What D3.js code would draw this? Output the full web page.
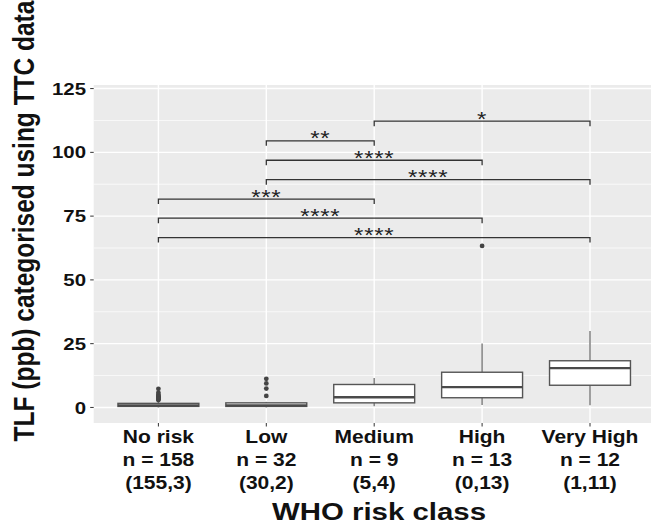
<!DOCTYPE html>
<html>
<head>
<meta charset="utf-8">
<script src="https://cdn.jsdelivr.net/npm/d3@7"></script>
<style>
  html, body { margin: 0; padding: 0; background: #fff; }
  svg { display: block; }
</style>
</head>
<body>
<div id="chart"></div>
<script>
// data
const categories = ["No risk", "Low", "Medium", "High", "Very High"];
const nLabels = ["n = 158", "n = 32", "n = 9", "n = 13", "n = 12"];
const splitLabels = ["(155,3)", "(30,2)", "(5,4)", "(0,13)", "(1,11)"];

const whiskerLow = [0.0, 0.0, 0.5, 1.0, 0.9];
const q1 = [0.4, 0.4, 1.8, 3.8, 8.7];
const median = [0.8, 0.8, 4.0, 8.0, 15.4];
const q3 = [1.6, 1.8, 9.0, 13.8, 18.3];
const whiskerHigh = [2.8, 2.2, 11.5, 25.1, 30.0];
const outliers = [
  [2.9, 3.2, 3.4, 3.7, 4.0, 4.2, 4.5, 5.0, 5.8, 7.3],
  [4.5, 7.4, 9.4, 11.2],
  [],
  [63.3],
  []
];

const compFrom = ["Medium", "Low", "Low", "Low", "No risk", "No risk", "No risk"];
const compTo = ["Very High", "Medium", "High", "Very High", "Medium", "High", "Very High"];
const compY = [112.2, 104.5, 96.9, 89.3, 81.7, 74.2, 66.6];
const compLabel = ["*", "**", "****", "****", "***", "****", "****"];

const yTicks = [0, 25, 50, 75, 100, 125];
const yMinor = [12.5, 37.5, 62.5, 87.5, 112.5];

const yTitle = "TLF (ppb) categorised using TTC data";
const xTitle = "WHO risk class";

// layout
const W = 651, H = 532;
const SX = 1.2; // the reference text is stretched horizontally
const panel = { left: 93.7, right: 654.7, top: 85, bottom: 423 };

const svg = d3.select("#chart").append("svg")
  .attr("width", W).attr("height", H)
  .attr("font-family", "'Liberation Sans', Arial, Helvetica, sans-serif");

const x = d3.scalePoint()
  .domain(categories)
  .range([158.4, 590]);
const step = x.step();

const y = d3.scaleLinear()
  .domain([-6.1, 126.4])
  .range([panel.bottom, panel.top]);

// stretched text helper
function label(g, tx, ty, txt, size, anchor, rot) {
  return g.append("text")
    .attr("transform", `translate(${tx},${ty}) scale(${SX},1)` + (rot ? ` rotate(${rot})` : ""))
    .attr("text-anchor", anchor)
    .attr("font-size", size)
    .attr("font-weight", "bold")
    .attr("fill", "#111")
    .text(txt);
}

// panel
svg.append("rect")
  .attr("x", panel.left).attr("y", panel.top)
  .attr("width", panel.right - panel.left)
  .attr("height", panel.bottom - panel.top)
  .attr("fill", "#EBEBEB");

const grid = svg.append("g");
grid.selectAll(".minor").data(yMinor).join("line")
  .attr("x1", panel.left).attr("x2", panel.right)
  .attr("y1", d => y(d)).attr("y2", d => y(d))
  .attr("stroke", "#fff").attr("stroke-width", 0.7);
grid.selectAll(".major").data(yTicks).join("line")
  .attr("x1", panel.left).attr("x2", panel.right)
  .attr("y1", d => y(d)).attr("y2", d => y(d))
  .attr("stroke", "#fff").attr("stroke-width", 1.4);
grid.selectAll(".vmajor").data(categories).join("line")
  .attr("x1", d => x(d)).attr("x2", d => x(d))
  .attr("y1", panel.top).attr("y2", panel.bottom)
  .attr("stroke", "#fff").attr("stroke-width", 1.4);

// boxes
const boxW = step * 0.75;
const boxes = svg.append("g").selectAll("g").data(categories).join("g");

boxes.append("line")
  .attr("x1", d => x(d)).attr("x2", d => x(d))
  .attr("y1", (d, i) => y(whiskerHigh[i])).attr("y2", (d, i) => y(q3[i]))
  .attr("stroke", "#888").attr("stroke-width", 1.6);
boxes.append("line")
  .attr("x1", d => x(d)).attr("x2", d => x(d))
  .attr("y1", (d, i) => y(q1[i])).attr("y2", (d, i) => y(whiskerLow[i]))
  .attr("stroke", "#888").attr("stroke-width", 1.6);
boxes.append("rect")
  .attr("x", d => x(d) - boxW / 2)
  .attr("y", (d, i) => y(q3[i]))
  .attr("width", boxW)
  .attr("height", (d, i) => y(q1[i]) - y(q3[i]))
  .attr("fill", "#fff").attr("stroke", "#555").attr("stroke-width", 1.4);
boxes.append("line")
  .attr("x1", d => x(d) - boxW / 2).attr("x2", d => x(d) + boxW / 2)
  .attr("y1", (d, i) => y(median[i])).attr("y2", (d, i) => y(median[i]))
  .attr("stroke", "#4a4a4a").attr("stroke-width", 2.3);

boxes.selectAll("circle")
  .data((d, i) => outliers[i].map(v => ({ c: d, v })))
  .join("circle")
  .attr("cx", d => x(d.c)).attr("cy", d => y(d.v))
  .attr("r", 2.4).attr("fill", "#444");

// significance brackets
const tip = 5;
const brackets = svg.append("g").selectAll("g").data(compY).join("g");
brackets.append("path")
  .attr("d", (d, i) => {
    const x1 = x(compFrom[i]), x2 = x(compTo[i]), yy = y(d);
    return `M${x1},${yy + tip}V${yy}H${x2}V${yy + tip}`;
  })
  .attr("fill", "none").attr("stroke", "#333").attr("stroke-width", 1.3);
brackets.each(function (d, i) {
  const cx = (x(compFrom[i]) + x(compTo[i])) / 2;
  label(d3.select(this), cx, y(d) + 4.5, compLabel[i], 20, "middle")
    .attr("font-weight", "normal").attr("fill", "#222")
    .attr("letter-spacing", 0.6);
});

// y axis
const yAxis = svg.append("g");
yAxis.selectAll("line").data(yTicks).join("line")
  .attr("x1", panel.left - 3.5).attr("x2", panel.left)
  .attr("y1", d => y(d)).attr("y2", d => y(d))
  .attr("stroke", "#333").attr("stroke-width", 1);
yTicks.forEach(t => label(yAxis, 86, y(t) + 6.1, String(t), 17, "end"));

// x axis
const xAxis = svg.append("g");
xAxis.selectAll("line").data(categories).join("line")
  .attr("x1", d => x(d)).attr("x2", d => x(d))
  .attr("y1", panel.bottom).attr("y2", panel.bottom + 3.5)
  .attr("stroke", "#333").attr("stroke-width", 1);
categories.forEach((c, i) => {
  label(xAxis, x(c), 442.5, c, 17.5, "middle");
  label(xAxis, x(c), 466.3, nLabels[i], 17.5, "middle");
  label(xAxis, x(c), 489.3, splitLabels[i], 17.5, "middle");
});

// titles
label(svg, 379, 519.5, xTitle, 24.5, "middle");
label(svg, 34, 221, yTitle, 24.5, "middle", -90);
</script>
</body>
</html>
